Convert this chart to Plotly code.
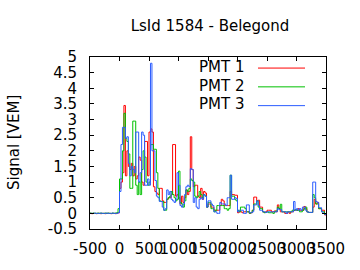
import plotly.graph_objects as go

# ---------------- data ----------------
TITLE = "LsId 1584 - Belegond"
T_START_NS = -500          # first bin start [ns]
BIN_NS = 25                # FADC bin width [ns]

x_ticks = [-500, 0, 500, 1000, 1500, 2000, 2500, 3000, 3500]
y_ticks = [-0.5, 0, 0.5, 1, 1.5, 2, 2.5, 3, 3.5, 4, 4.5, 5]
y_tick_labels = ["-0.5", "0", "0.5", "1", "1.5", "2", "2.5", "3", "3.5", "4", "4.5", "5"]

series_names = ["PMT 1", "PMT 2", "PMT 3"]

pmt1 = [
    0.0, -0.01, 0.0, 0.0, -0.01, 0.0, 0.0, -0.01, 0.0, 0.0,
    -0.01, 0.0, 0.0, 0.0, -0.01, 0.0, 0.0, -0.01, 0.0, 0.02,
    0.8, 1.0, 1.3, 3.45, 1.2, 2.0, 1.5, 1.4, 1.6, 1.2,
    1.5, 1.1, 1.2, 1.8, 1.7, 1.0, 0.9, 2.3, 2.3, 1.2,
    2.6, 2.7, 2.6, 0.85, 0.7, 0.65, 0.6, 0.8, 0.8, 0.4,
    0.35, 0.35, 0.45, 0.5, 0.5, 0.6, 2.2, 2.2, 0.55, 0.6,
    0.5, 0.3, 0.55, 0.35, 0.5, 0.75, 0.6, 0.7, 2.45, 1.4,
    0.85, 0.9, 0.9, 0.55, 0.5, 0.8, 0.45, 0.7, 0.65, 0.2,
    0.3, 0.3, 0.2, 0.2, 0.1, 0.1, 0.1, 0.1, 0.25, 0.45,
    0.4, 0.25, 0.25, 0.25, 0.25, 0.7, 0.6, 0.6, 0.58, 0.58,
    0.02, 0.05, 0.05, 0.02, 0.05, 0.05, 0.05, 0.05, 0.0, 0.02,
    0.1, 0.52, 0.52, 0.4, 0.42, 0.2, 0.2, 0.05, 0.03, 0.05,
    0.1, 0.1, 0.1, 0.05, 0.05, 0.08, 0.05, 0.27, 0.15, 0.05,
    0.05, 0.05, 0.0, 0.0, 0.05, 0.0, 0.05, 0.05, 0.1, 0.1,
    0.1, 0.15, 0.1, 0.1, 0.1, 0.22, 0.15, 0.05, 0.03, 0.03,
    0.03, 0.2, 0.45, 0.3, 0.35, 0.15, 0.15, 0.1, 0.1, -0.05,
]

pmt2 = [
    0.01, 0.0, 0.01, 0.0, 0.0, 0.01, 0.0, 0.01, 0.0, 0.0,
    0.01, 0.0, 0.01, 0.0, 0.0, 0.01, 0.0, 0.01, 0.02, 0.15,
    1.1, 1.1, 2.0, 3.2, 2.4, 2.3, 1.9, 0.8, 0.8, 2.95,
    2.95, 0.9, 0.6, 1.0, 0.6, 1.4, 2.0, 1.8, 1.0, 0.9,
    1.0, 2.2, 2.2, 2.05, 2.05, 1.3, 0.8, 0.4, 0.38, 0.38,
    0.1, 0.1, 0.45, 0.5, 0.55, 0.7, 0.6, 0.5, 0.4, 0.45,
    1.35, 0.35, 0.3, 0.2, 0.4, 0.75, 0.7, 0.8, 1.1, 1.05,
    1.0, 0.55, 0.5, 0.55, 0.7, 0.6, 0.5, 0.6, 0.55, 0.2,
    0.35, 0.35, 0.15, 0.15, 0.05, 0.1, 0.25, 0.25, 0.25, 0.25,
    0.25, 0.15, 0.15, 0.1, 0.15, 1.22, 0.55, 0.55, 0.45, 0.4,
    0.1, 0.05, 0.2, 0.2, 0.2, 0.15, 0.05, 0.05, 0.0, 0.03,
    0.1, 0.3, 0.3, 0.4, 0.2, 0.15, 0.15, 0.05, 0.02, 0.03,
    0.05, 0.02, 0.02, 0.02, 0.0, 0.05, 0.08, 0.2, 0.15, 0.29,
    0.05, 0.05, 0.05, 0.05, 0.05, 0.05, 0.05, 0.1, 0.1, 0.12,
    0.1, 0.1, 0.05, 0.05, 0.1, 0.15, 0.2, 0.05, 0.03, 0.03,
    0.03, 0.6, 0.5, 0.3, 0.3, 0.15, 0.15, 0.05, 0.05, -0.03,
]

pmt3 = [
    0.0, 0.0, 0.0, 0.01, 0.0, 0.0, 0.0, 0.01, 0.0, 0.0,
    0.0, 0.01, 0.0, 0.0, 0.0, 0.01, 0.0, 0.0, 0.0, 0.02,
    0.7, 2.2, 2.75, 2.75, 2.4, 2.45, 1.6, 1.2, 1.5, 1.4,
    1.3, 2.6, 2.6, 1.0, 1.3, 2.6, 2.5, 0.9, 0.9, 1.1,
    0.9, 4.8, 2.0, 2.0, 1.05, 0.55, 0.5, 0.38, 0.38, 0.2,
    0.1, 0.15, 0.75, 0.6, 0.7, 0.45, 0.4, 0.35, 0.45, 1.3,
    0.9, 0.25, 0.2, 0.3, 0.6, 0.85, 0.9, 0.85, 1.43, 1.4,
    0.35, 0.5, 0.2, 0.15, 0.45, 0.5, 0.45, 0.6, 0.55, 0.2,
    0.4, 0.4, 0.3, 0.25, 0.05, 0.05, 0.0, 0.0, 0.35, 0.3,
    0.3, 0.3, 0.25, 0.5, 0.5, 1.22, 0.45, 0.45, 0.5, 0.48,
    0.05, 0.1, 0.1, 0.1, 0.0, 0.0, 0.27, 0.27, 0.02, 0.02,
    0.05, 0.27, 0.27, 0.4, 0.25, 0.1, 0.1, 0.05, 0.05, 0.03,
    0.05, 0.05, 0.05, 0.05, 0.05, 0.05, 0.05, 0.15, 0.12, 0.12,
    0.05, 0.05, 0.05, 0.0, 0.05, 0.05, 0.05, 0.05, 0.38, 0.1,
    0.15, 0.1, 0.15, 0.1, 0.2, 0.2, 0.1, 0.05, 0.03, 0.03,
    0.03, 1.0, 1.0, 0.38, 0.35, 0.18, 0.18, 0.05, 0.0, -0.03,
]

# ---------------- style ----------------
colors = ["#ff0000", "#00c000", "#2b5cff"]
FONT = "DejaVu Sans"
W, H = 360, 270
M_L, M_R, M_T, M_B = 90, 34, 57, 39

fig = go.Figure()
for name, vals, col in zip(series_names, [pmt1, pmt2, pmt3], colors):
    n = len(vals)
    xs = [T_START_NS + BIN_NS * i for i in range(n + 1)]
    ys = list(vals) + [vals[-1]]
    fig.add_trace(go.Scatter(x=xs, y=ys, mode="lines", name=name,
                             line=dict(color=col, width=1, shape="hv"),
                             showlegend=False, hoverinfo="skip"))

# manual gnuplot-style key (text then sample line)
plot_w = W - M_L - M_R
plot_h = H - M_T - M_B
key_rows_px = [67, 86, 105]
for name, col, ypx in zip(series_names, colors, key_rows_px):
    yp = 1 - (ypx - M_T) / plot_h
    fig.add_annotation(text=name, xref="paper", yref="paper",
                       x=(197 - M_L) / plot_w, y=yp, xanchor="left", yanchor="middle",
                       showarrow=False, font=dict(family=FONT, size=15, color="#000"))
    fig.add_shape(type="line", xref="paper", yref="paper",
                  x0=(258 - M_L) / plot_w, x1=(305 - M_L) / plot_w,
                  y0=yp - 1.2 / plot_h, y1=yp - 1.2 / plot_h,
                  line=dict(color=col, width=1))

# y-axis title
fig.add_annotation(text="Signal [VEM]", xref="paper", yref="paper",
                   x=(14 - M_L) / plot_w, y=0.5, textangle=-90,
                   xanchor="center", yanchor="middle", showarrow=False,
                   font=dict(family=FONT, size=15, color="#000"))

axis_common = dict(showline=True, linecolor="#000", linewidth=1, mirror="allticks",
                   ticks="inside", ticklen=4, tickcolor="#000", tickwidth=1,
                   showgrid=False, zeroline=False,
                   tickfont=dict(family=FONT, size=15, color="#000"))

fig.update_layout(
    width=W, height=H,
    margin=dict(l=M_L, r=M_R, t=M_T, b=M_B, pad=0),
    paper_bgcolor="#ffffff", plot_bgcolor="#ffffff",
    title=dict(text=TITLE, x=(210) / W, xref="container", xanchor="center",
               y=1 - 26 / H, yref="container", yanchor="middle",
               font=dict(family=FONT, size=15, color="#000")),
    xaxis=dict(range=[-500, 3500], tickmode="array", tickvals=x_ticks,
               ticktext=[str(v) for v in x_ticks], tickangle=0,
               ticklabelstandoff=6, **axis_common),
    yaxis=dict(range=[-0.5, 5], tickmode="array", tickvals=y_ticks,
               ticktext=y_tick_labels, ticklabelstandoff=9, **axis_common),
)

fig.write_html("out.html")
